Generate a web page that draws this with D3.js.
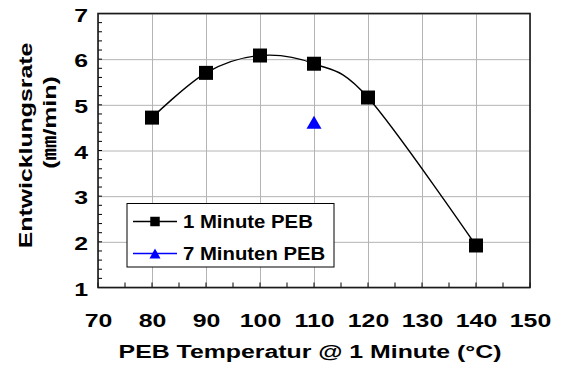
<!DOCTYPE html>
<html>
<head>
<meta charset="utf-8">
<script src="https://cdnjs.cloudflare.com/ajax/libs/d3/7.8.5/d3.min.js"></script>
<style>
  html, body { margin: 0; padding: 0; background: #fff; }
  svg { display: block; }
  text { font-family: "Liberation Sans", Arial, "Noto Sans CJK JP", sans-serif; font-weight: bold; fill: #000; }
</style>
</head>
<body>
<svg id="chart" width="570" height="365"></svg>
<script>
// ---- data ----
const temps1 = [80, 90, 100, 110, 120, 140];
const rate1 = [4.72, 5.70, 6.08, 5.90, 5.16, 1.92];
const temps7 = [110];
const rate7 = [4.62];
const xTicks = [70, 80, 90, 100, 110, 120, 130, 140, 150];
const yTicks = [1, 2, 3, 4, 5, 6, 7];
const seriesNames = ["1 Minute PEB", "7 Minuten PEB"];
const xTitle = "PEB Temperatur @ 1 Minute (°C)";
const yTitle1 = "Entwicklungsrate";
const yTitle2 = "(\u339C/min)";

// ---- layout ----
const L = 98, R = 530, T = 13.5, B = 287.5;
const SX = 1.38; // horizontal stretch of the fonts
const svg = d3.select("#chart");
const x = d3.scaleLinear().domain([70, 150]).range([L, R]);
const y = d3.scaleLinear().domain([1, 7]).range([B, T]);

// gridlines
svg.append("g").attr("transform", `translate(0,${B})`)
  .call(d3.axisBottom(x).tickValues(xTicks).tickSize(-(B - T)).tickFormat(""))
  .call(g => g.select(".domain").remove())
  .call(g => g.selectAll("line").attr("stroke", "#b4b4b4").attr("stroke-width", 1));
svg.append("g").attr("transform", `translate(${L},0)`)
  .call(d3.axisLeft(y).tickValues(yTicks).tickSize(-(R - L)).tickFormat(""))
  .call(g => g.select(".domain").remove())
  .call(g => g.selectAll("line").attr("stroke", "#b4b4b4").attr("stroke-width", 1));

// minor ticks (inward)
const yMinor = d3.range(0, 31).map(i => 1 + i * 0.2);
svg.append("g").selectAll("line").data(yMinor).join("line")
  .attr("x1", L).attr("x2", L + 4)
  .attr("y1", d => y(d)).attr("y2", d => y(d))
  .attr("stroke", "#000").attr("stroke-width", 1);
const xMinor = d3.range(70, 151, 5);
svg.append("g").selectAll("line").data(xMinor).join("line")
  .attr("x1", d => x(d)).attr("x2", d => x(d))
  .attr("y1", B).attr("y2", B - 5)
  .attr("stroke", "#000").attr("stroke-width", 1);

// frame
svg.append("rect").attr("x", L).attr("y", T).attr("width", R - L).attr("height", B - T)
  .attr("fill", "none").attr("stroke", "#1a1a1a").attr("stroke-width", 1.6);

// tick labels
svg.append("g").attr("transform", `translate(0,${B})`)
  .call(d3.axisBottom(x).tickValues(xTicks).tickSize(0).tickFormat(d3.format("d")))
  .call(g => g.select(".domain").remove())
  .call(g => g.selectAll("text")
    .attr("y", 39.5).attr("dy", 0)
    .attr("transform", `scale(${SX},1)`)
    .style("font-size", "18px"));
svg.append("g").attr("transform", `translate(${L},0)`)
  .call(d3.axisLeft(y).tickValues(yTicks).tickSize(0).tickFormat(d3.format("d")))
  .call(g => g.select(".domain").remove())
  .call(g => g.selectAll("text")
    .attr("x", -10 / SX).attr("dy", "0.42em")
    .attr("transform", `scale(${SX},1)`)
    .style("font-size", "18px"));

// axis titles
svg.append("text").attr("transform", `translate(310,358) scale(${SX},1)`)
  .attr("text-anchor", "middle").style("font-size", "18px").text(xTitle);
svg.append("text").attr("transform", `translate(32,145.5) rotate(-90) scale(${SX},1)`)
  .attr("text-anchor", "middle").style("font-size", "18px").text(yTitle1);
svg.append("text").attr("transform", `translate(56,122.5) rotate(-90) scale(${SX},1)`)
  .attr("text-anchor", "middle").style("font-size", "18px").text(yTitle2);

// series 1 line
const pts1 = temps1.map((t, i) => [t, rate1[i]]);
const line = d3.line().x(d => x(d[0])).y(d => y(d[1])).curve(d3.curveCatmullRom.alpha(0));
svg.append("path").datum(pts1).attr("d", line)
  .attr("fill", "none").attr("stroke", "#000").attr("stroke-width", 1.4);
svg.append("g").selectAll("path").data(pts1).join("path")
  .attr("transform", d => `translate(${x(d[0])},${y(d[1])})`)
  .attr("d", d3.symbol(d3.symbolSquare, 196))
  .attr("fill", "#000");

// series 2 triangles
const tri = (w, h) => `M0,${-h / 2}L${w / 2},${h / 2}L${-w / 2},${h / 2}Z`;
const pts7 = temps7.map((t, i) => [t, rate7[i]]);
svg.append("g").selectAll("path").data(pts7).join("path")
  .attr("transform", d => `translate(${x(d[0])},${y(d[1])})`)
  .attr("d", tri(15, 13))
  .attr("fill", "#0000ff");

// legend
const lg = svg.append("g");
lg.append("rect").attr("x", 127).attr("y", 203.5).attr("width", 207).attr("height", 63.5)
  .attr("fill", "#fff").attr("stroke", "#000").attr("stroke-width", 1);
const rows = [
  { name: seriesNames[0], color: "#000", sym: "sq", cy: 221.5 },
  { name: seriesNames[1], color: "#0000ff", sym: "tri", cy: 253.5 }
];
rows.forEach(r => {
  lg.append("line").attr("x1", 133).attr("x2", 177).attr("y1", r.cy).attr("y2", r.cy)
    .attr("stroke", r.color).attr("stroke-width", 1.3);
  lg.append("path").attr("transform", `translate(155,${r.cy})`)
    .attr("d", r.sym === "sq" ? d3.symbol(d3.symbolSquare, 90)() : tri(11, 10))
    .attr("fill", r.color);
  lg.append("text").attr("transform", `translate(183,${r.cy + 6.5}) scale(1.13,1)`)
    .style("font-size", "18px").text(r.name);
});
</script>
</body>
</html>
